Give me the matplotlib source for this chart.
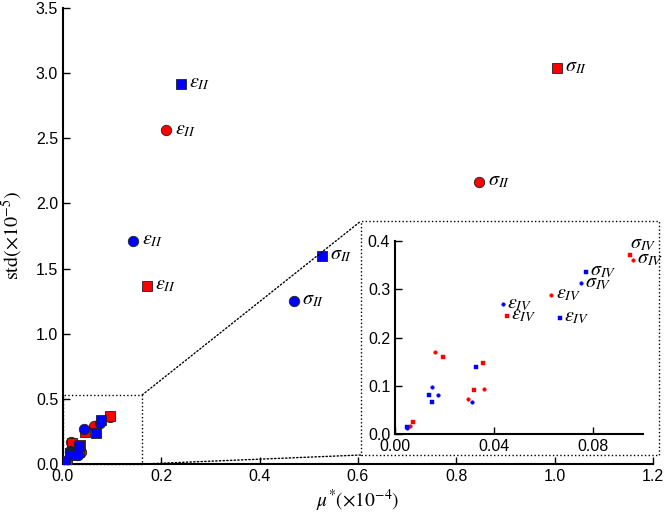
import matplotlib
matplotlib.use("Agg")
import matplotlib.pyplot as plt
from matplotlib.patches import Rectangle, ConnectionPatch

plt.rcParams["font.family"] = ["Liberation Sans", "DejaVu Sans"]
plt.rcParams["mathtext.fontset"] = "stix"

# data: (mu*, std) per group, with a label or None
red_circle_x = [0.210, 0.847, 0.0631, 0.0961, 0.0162, 0.0293, 0.0358, 0.0061]
red_circle_y = [2.56, 2.164, 0.289, 0.361, 0.170, 0.0723, 0.0932, 0.0167]
red_circle_lab = [r"$\varepsilon_{II}$", r"$\sigma_{II}$", r"$\varepsilon_{IV}$", r"$\sigma_{IV}$",
                  None, None, None, None]

red_square_x = [0.170, 1.005, 0.045, 0.0949, 0.0192, 0.0319, 0.0354, 0.0074]
red_square_y = [1.368, 3.04, 0.245, 0.371, 0.160, 0.0904, 0.148, 0.025]
red_square_lab = [r"$\varepsilon_{II}$", r"$\sigma_{II}$", r"$\varepsilon_{IV}$", r"$\sigma_{IV}$",
                  None, None, None, None]

blue_circle_x = [0.143, 0.469, 0.0436, 0.0749, 0.0151, 0.0174, 0.0311, 0.0050]
blue_circle_y = [1.71, 1.252, 0.2685, 0.312, 0.097, 0.0807, 0.066, 0.0125]
blue_circle_lab = [r"$\varepsilon_{II}$", r"$\sigma_{II}$", r"$\varepsilon_{IV}$", r"$\sigma_{IV}$",
                   None, None, None, None]

blue_square_x = [0.239, 0.527, 0.0666, 0.077, 0.0136, 0.0151, 0.0328, 0.0047]
blue_square_y = [2.92, 1.594, 0.240, 0.336, 0.0807, 0.0668, 0.139, 0.0139]
blue_square_lab = [r"$\varepsilon_{II}$", r"$\sigma_{II}$", r"$\varepsilon_{IV}$", r"$\sigma_{IV}$",
                   None, None, None, None]

groups = [
    (red_circle_x, red_circle_y, red_circle_lab, "red", "o"),
    (red_square_x, red_square_y, red_square_lab, "red", "s"),
    (blue_circle_x, blue_circle_y, blue_circle_lab, "blue", "o"),
    (blue_square_x, blue_square_y, blue_square_lab, "blue", "s"),
]

main_xticks = [0.0, 0.2, 0.4, 0.6, 0.8, 1.0, 1.2]
main_yticks = [0.0, 0.5, 1.0, 1.5, 2.0, 2.5, 3.0, 3.5]
ins_xticks = [0.00, 0.04, 0.08]
ins_yticks = [0.0, 0.1, 0.2, 0.3, 0.4]


def style_axes(a):
    for s in ["top", "right"]:
        a.spines[s].set_visible(False)
    for s in ["left", "bottom"]:
        a.spines[s].set_linewidth(1.5)
    a.tick_params(direction="in", length=5, width=1, labelsize=11.5,
                  top=False, right=False)


fig = plt.figure(figsize=(6.65, 5.13), dpi=100)
ax = fig.add_axes([63 / 665, 1 - 464 / 513, 590 / 665, 456 / 513])
ins = fig.add_axes([395 / 665, 1 - 434 / 513, 248 / 665, 193 / 513])

for xs, ys, labs, col, mk in groups:
    ms = 7.5 if mk == "o" else 6.5
    ax.plot(xs, ys, linestyle="none", marker=mk, ms=ms, mfc=col,
            mec="#202020", mew=0.6, zorder=3)
    ins.plot(xs, ys, linestyle="none", marker=mk, ms=2.6 if mk == "o" else 3.2,
             mfc=col, mec=col, mew=0.3, zorder=3)
    for x, y, lab in zip(xs, ys, labs):
        if lab is None:
            continue
        if "II" in lab:
            ax.annotate(lab, (x, y), xytext=(6, 1), textcoords="offset points",
                        fontsize=14.5, va="center", ha="left")
        else:
            if col == "red" and mk == "s" and "sigma" in lab:
                off = (0, 8)
            else:
                off = (3, 1)
            ins.annotate(lab, (x, y), xytext=off, textcoords="offset points",
                         fontsize=14.5, va="center", ha="left")

ax.set_xlim(0, 1.2)
ax.set_ylim(0, 3.5)
ax.set_xticks(main_xticks)
ax.set_yticks(main_yticks)
ax.set_xticklabels(["%.1f" % v for v in main_xticks])
ax.set_yticklabels(["%.1f" % v for v in main_yticks])
style_axes(ax)
ax.set_xlabel(r"$\mu^{*}(\times 10^{-4})$", fontsize=14, labelpad=3)
ax.set_ylabel(r"$\mathrm{std}(\times 10^{-5})$", fontsize=14.5, labelpad=8)

ins.set_xlim(0, 0.1)
ins.set_ylim(0, 0.4)
ins.set_xticks(ins_xticks)
ins.set_yticks(ins_yticks)
ins.set_xticklabels(["%.2f" % v for v in ins_xticks])
ins.set_yticklabels(["%.1f" % v for v in ins_yticks])
style_axes(ins)
ins.patch.set_alpha(0)

# zoom box on the main axes and the frame around the inset
zx, zy = 0.161, 0.53
ax.add_patch(Rectangle((0, 0), zx, zy, fill=False, ls=":", lw=1, ec="k",
                       zorder=2, clip_on=False))
bx0, by0, bx1, by1 = 361 / 665, 1 - 455 / 513, 659 / 665, 1 - 221 / 513
fig.add_artist(Rectangle((bx0, by0), bx1 - bx0, by1 - by0, fill=False, ls=":",
                         lw=1, ec="k", transform=fig.transFigure))
for (px, py), (fx, fy) in [((zx, zy), (bx0, by1)), ((zx, 0), (bx0, by0))]:
    con = ConnectionPatch(xyA=(px, py), coordsA=ax.transData,
                          xyB=(fx, fy), coordsB=fig.transFigure,
                          ls=":", lw=1, color="k")
    fig.add_artist(con)

fig.savefig("out.png", dpi=100)
